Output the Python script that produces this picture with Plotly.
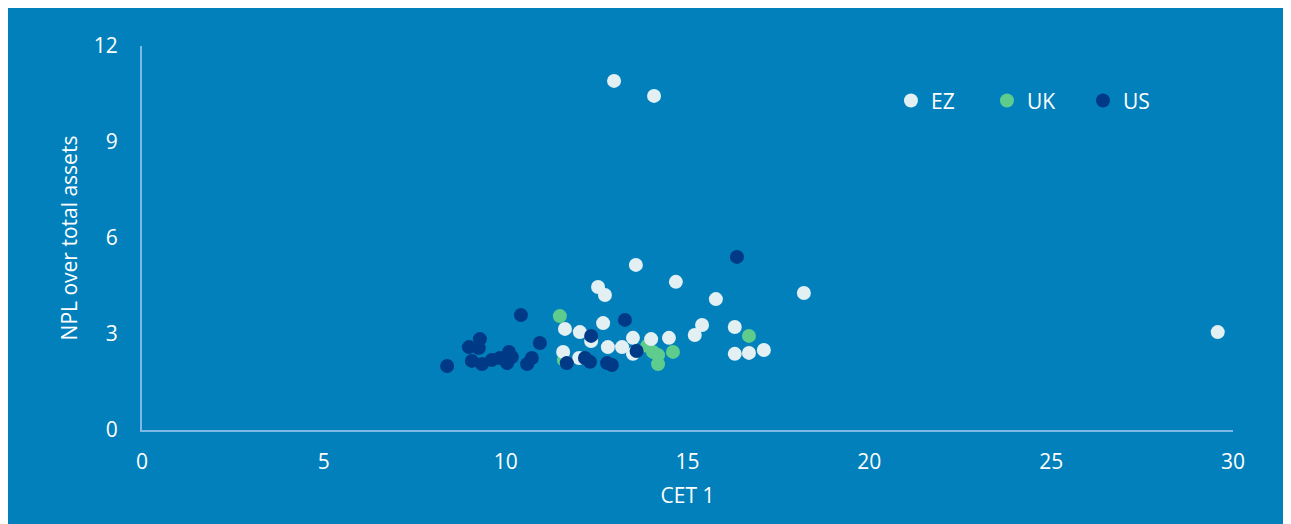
import plotly.graph_objects as go

# EZ
ez_x = [12.98, 14.08, 13.58, 14.68, 12.54, 12.73, 15.78, 18.2, 29.58, 11.63, 12.04, 12.68,
        12.35, 11.58, 12.02, 12.81, 13.2, 13.5, 14.0, 14.49, 13.5, 15.4, 15.2, 16.3, 16.3,
        16.69, 17.1]
ez_y = [10.91, 10.44, 5.16, 4.63, 4.47, 4.22, 4.09, 4.28, 3.06, 3.16, 3.06, 3.34,
        2.78, 2.44, 2.25, 2.59, 2.59, 2.88, 2.84, 2.88, 2.38, 3.28, 2.97, 3.22, 2.38,
        2.41, 2.5]
# UK
uk_x = [11.49, 11.6, 13.89, 14.05, 14.19, 14.19, 14.6, 16.69]
uk_y = [3.56, 2.19, 2.63, 2.44, 2.34, 2.06, 2.44, 2.94]
# US
us_x = [16.36, 10.42, 13.28, 10.94, 12.35, 13.6, 11.68, 12.18, 12.32, 12.79, 12.92,
        8.39, 9.29, 8.99, 9.26, 9.07, 9.35, 9.62, 9.84, 10.04, 10.09, 10.17, 10.59, 10.72]
us_y = [5.41, 3.59, 3.44, 2.72, 2.94, 2.47, 2.09, 2.25, 2.13, 2.09, 2.03,
        2.0, 2.84, 2.59, 2.56, 2.16, 2.06, 2.19, 2.25, 2.09, 2.44, 2.28, 2.06, 2.25]

x_ticks = [0, 5, 10, 15, 20, 25, 30]
y_ticks = [0, 3, 6, 9, 12]

FONT = "Open Sans"
fig = go.Figure()
fig.add_trace(go.Scatter(x=uk_x, y=uk_y, mode="markers", name="UK", legendrank=2,
                         marker=dict(color="#5ECC8C", size=14)))
fig.add_trace(go.Scatter(x=ez_x, y=ez_y, mode="markers", name="EZ", legendrank=1,
                         marker=dict(color="#E2EFF3", size=14)))
fig.add_trace(go.Scatter(x=us_x, y=us_y, mode="markers", name="US", legendrank=3,
                         marker=dict(color="#003A87", size=14)))

fig.update_layout(
    width=1275, height=516,
    paper_bgcolor="#0280BB", plot_bgcolor="rgba(0,0,0,0)",
    margin=dict(l=134, r=50, t=38, b=94),
    font=dict(family=FONT, color="white", size=21),
    showlegend=True,
    legend=dict(orientation="h", x=0.6865, y=0.857, yanchor="middle",
                xanchor="left", bgcolor="rgba(0,0,0,0)", font=dict(size=21, color="white"),
                entrywidth=51, entrywidthmode="pixels", itemsizing="trace",
                traceorder="normal"),
    xaxis=dict(range=[0, 30], tickvals=x_ticks, showgrid=False, zeroline=False,
               showline=True, linecolor="#7DB8E6", linewidth=2,
               ticks="outside", ticklen=0, ticklabelstandoff=12,
               title=dict(text="CET 1", font=dict(size=21), standoff=14)),
    yaxis=dict(range=[0, 12], tickvals=y_ticks, showgrid=False, zeroline=False,
               showline=True, linecolor="#7DB8E6", linewidth=2,
               ticks="outside", ticklen=0, ticklabelstandoff=18,
               title=dict(text="NPL over total assets", font=dict(size=21), standoff=10)),
)
fig.write_html("out.html")
